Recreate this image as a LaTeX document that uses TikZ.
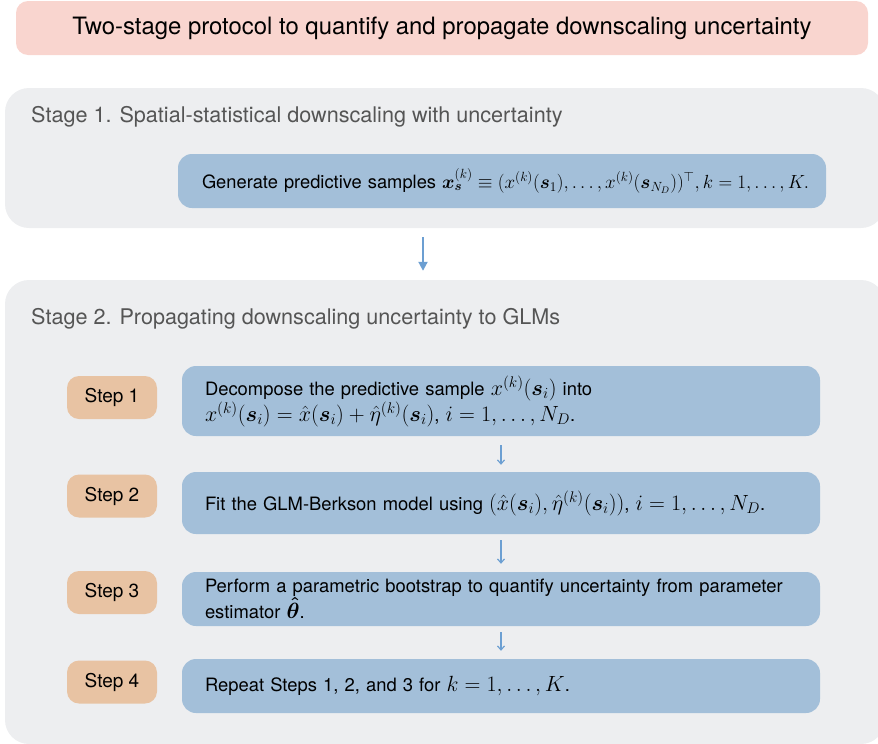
\RequirePackage{fix-cm}
\documentclass[tikz,border=0pt]{standalone}
\usepackage{amsmath,amssymb,bm}
\usepackage[no-math]{fontspec}
\setmainfont{TeX Gyre Heros}
\DeclareMathSizes{18.4}{22}{15.4}{11}
\DeclareMathSizes{18.3}{19}{13.3}{9.5}
\usetikzlibrary{arrows.meta,positioning}
\definecolor{titlepink}{HTML}{F9D5CF}
\definecolor{stagegray}{HTML}{EDEEF0}
\definecolor{boxblue}{HTML}{A3BFD9}
\definecolor{steporange}{HTML}{E8C3A3}
\definecolor{arrowblue}{HTML}{6C9FD2}
\definecolor{labelgray}{HTML}{555555}
\tikzset{
  x=1pt,y=-1pt,
  titlebox/.style={fill=titlepink,rounded corners=12pt,inner sep=0pt,minimum width=852pt,minimum height=54pt,font=\fontsize{23.9}{28}\selectfont},
  stagebox/.style={fill=stagegray,rounded corners=24pt,inner sep=0pt},
  stagelabel/.style={anchor=west,inner sep=0pt,text=labelgray,font=\fontsize{21.6}{25}\selectfont},
  bluebox/.style={fill=boxblue,rounded corners=14pt,inner xsep=23pt,inner ysep=0pt,align=left,font=\fontsize{18.4}{26}\selectfont},
  stepbox/.style={fill=steporange,rounded corners=12pt,inner sep=0pt,minimum width=90pt,minimum height=43pt,font=\fontsize{19}{22}\selectfont},
  bigarrow/.style={draw=arrowblue,line width=2pt,-{Triangle[length=9pt,width=9pt]}},
  smallarrow/.style={draw=arrowblue,line width=1.2pt,-{Straight Barb[length=4pt,width=7pt]}}
}
\begin{document}
\begin{tikzpicture}
\useasboundingbox (0,0) rectangle (878,744);
% title
\node[titlebox] (title) at (442,28) {Two-stage protocol to quantify and propagate downscaling uncertainty};
% stage 1
\node[stagebox,minimum width=880pt,minimum height=140pt] (stage1) at (445,158) {};
\node[stagelabel] (s1label) at (31,117) {Stage 1. Spatial-statistical downscaling with uncertainty};
\node[bluebox,text width=600pt,minimum height=54pt,inner xsep=24pt,font=\fontsize{18.3}{26}\selectfont] (gen) at (502,181)
 {\mbox{Generate predictive samples $\bm{x}_{\bm{s}}^{(k)}\equiv(x^{(k)}(\bm{s}_1),\ldots,x^{(k)}(\bm{s}_{N_D}))^{\top},k=1,\ldots,K.$}};
% stage 2
\node[stagebox,minimum width=880pt,minimum height=464pt] (stage2) at (445,512) {};
\node[stagelabel] (s2label) at (31,319) {Stage 2. Propagating downscaling uncertainty to GLMs};
% steps
\node[stepbox] (st1) at (112,397.5) {Step 1};
\node[stepbox] (st2) at (112,496) {Step 2};
\node[stepbox] (st3) at (112,592.5) {Step 3};
\node[stepbox] (st4) at (112,682) {Step 4};
\node[bluebox,text width=592pt,minimum height=70pt] (b1) at (501,401)
 {Decompose the predictive sample $x^{(k)}(\bm{s}_i)$ into\\[0pt]
  $x^{(k)}(\bm{s}_i)=\hat{x}(\bm{s}_i)+\hat{\eta}^{(k)}(\bm{s}_i)$, $i=1,\ldots,N_D$.};
\node[bluebox,text width=592pt,minimum height=62pt] (b2) at (501,503)
 {Fit the GLM-Berkson model using $(\hat{x}(\bm{s}_i),\hat{\eta}^{(k)}(\bm{s}_i))$, $i=1,\ldots,N_D$.};
\node[bluebox,text width=592pt,minimum height=54pt,font=\fontsize{18.4}{24}\selectfont] (b3) at (501,599)
 {Perform a parametric bootstrap to quantify uncertainty from parameter\\[0pt]
  estimator $\bm{\hat{\theta}}$.};
\node[bluebox,text width=592pt,minimum height=54pt] (b4) at (501,686)
 {Repeat Steps 1, 2, and 3 for $k=1,\ldots,K$.};
% arrows
\coordinate (a1) at (423,0);
\draw[bigarrow,shorten <=9pt,shorten >=9pt] (stage1.south -| a1) -- (stage2.north -| a1);
\draw[smallarrow,shorten <=9pt,shorten >=7pt] (b1.south) -- (b2.north);
\draw[smallarrow,shorten <=6pt,shorten >=8pt] (b2.south) -- (b3.north);
\draw[smallarrow,shorten <=6pt,shorten >=8pt] (b3.south) -- (b4.north);
\end{tikzpicture}
\end{document}
